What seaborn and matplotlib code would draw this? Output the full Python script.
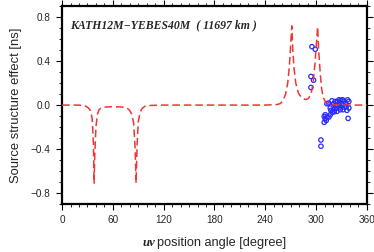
import numpy as np
import pandas as pd
import matplotlib
matplotlib.use('Agg')
import matplotlib.pyplot as plt
import seaborn as sns

# ── model curve ─────────────────────────────────────────────
model_angle = [0, 20, 28, 31, 33.5, 35.5, 37, 37.8, 38.6, 40, 41.5, 43.5, 46, 50,
               60, 70, 76, 79.5, 82, 84.5, 86.3, 87.4, 88.5, 90, 92, 94.5, 98,
               105, 120, 180, 240, 254, 258, 261, 264, 266.5, 268.5, 270,
               271.3, 272.5, 274, 276, 279, 282, 285, 288, 291, 294, 296.5,
               298.5, 300.3, 301.8, 303, 304.8, 306.5, 308.5, 311, 314, 320,
               340, 360]
model_value = [0.0, 0.0, -0.01, -0.025, -0.05, -0.12, -0.35, -0.71, -0.45, -0.2,
               -0.09, -0.045, -0.025, -0.018, -0.015, -0.017, -0.025, -0.045,
               -0.08, -0.16, -0.4, -0.71, -0.38, -0.15, -0.07, -0.03, -0.01,
               -0.003, 0.0, 0.0, 0.0, 0.005, 0.015, 0.04, 0.1, 0.2, 0.36, 0.55,
               0.72, 0.5, 0.33, 0.2, 0.11, 0.075, 0.058, 0.05, 0.06, 0.1, 0.2,
               0.36, 0.55, 0.71, 0.5, 0.3, 0.15, 0.07, 0.03, 0.012, 0.003,
               0.0, 0.0]

# ── observed points ─────────────────────────────────────────
obs_angle = [295.1, 299.0, 293.9, 297.0, 293.9, 305.7, 305.7,
             309.6, 310.8, 312.0, 309.6, 312.8, 315.1, 310.8, 316.7, 319.1,
             321.4, 314.7, 316.7, 317.5, 318.7, 320.6, 323.0, 325.4, 327.0,
             329.3, 331.3, 333.2, 334.8, 337.2, 338.7, 338.7, 336.4, 333.2,
             331.7, 328.5, 325.4, 323.8, 320.6, 337.8, 312.8, 327.7, 330.5,
             322.6, 335.6, 328.5, 324.6]
obs_value = [0.531, 0.507, 0.26, 0.226, 0.16, -0.317, -0.374,
             -0.103, -0.124, -0.139, -0.157, -0.109, -0.109, -0.088, -0.088,
             -0.066, -0.060, 0.018, -0.027, -0.048, 0.039, 0.012, -0.006,
             0.033, 0.048, 0.042, 0.048, 0.036, 0.012, 0.048, 0.033, -0.027,
             -0.048, -0.018, -0.042, -0.018, -0.006, -0.030, -0.042, -0.121,
             0.012, 0.012, 0.003, 0.033, -0.012, -0.042, -0.057]

TITLE = "KATH12M\u2212YEBES40M  ( 11697 km )"

df_model = pd.DataFrame({'angle': model_angle, 'value': model_value})
df_obs = pd.DataFrame({'angle': obs_angle, 'value': obs_value})

sns.set_style('ticks')
plt.rcParams['font.family'] = ['Liberation Sans', 'DejaVu Sans']

fig = plt.figure(figsize=(3.74, 2.52), dpi=100)
ax = fig.add_axes([0.166, 0.19, 0.815, 0.786])

sns.scatterplot(data=df_obs, x='angle', y='value', ax=ax, s=10,
                facecolors='none', edgecolor='#2a2aff', linewidth=0.9,
                marker='o', zorder=2)
sns.lineplot(data=df_model, x='angle', y='value', ax=ax, color='#f03535',
             linewidth=1.1, dashes=False, zorder=3, sort=False)
ax.lines[-1].set_dashes([5, 2.5])

ax.set_xlim(0, 360)
ax.set_ylim(-0.9, 0.9)
ax.set_xticks(np.arange(0, 361, 60))
ax.set_xticks(np.arange(0, 361, 10), minor=True)
ax.set_yticks([-0.8, -0.4, 0.0, 0.4, 0.8])
ax.set_yticks(np.arange(-0.9, 0.91, 0.1), minor=True)
ax.set_yticklabels(['\u22120.8', '\u22120.4', '0.0', '0.4', '0.8'])
ax.tick_params(which='major', direction='out', length=4.5, width=0.8,
               labelsize=7.2, top=True, right=True, color='black', pad=4)
ax.tick_params(axis='x', which='major', pad=3)
ax.tick_params(which='minor', direction='out', length=2.2, width=0.6,
               top=True, right=True, color='black')
for sp in ax.spines.values():
    sp.set_linewidth(1.6)
    sp.set_color('black')

ax.set_xlabel('')
ax.set_ylabel('Source structure effect [ns]', fontsize=9.4, labelpad=6)

ax.text(0.025, 0.935, TITLE, transform=ax.transAxes, fontsize=8.5,
        family='Liberation Serif', fontweight='bold', fontstyle='italic',
        va='top', ha='left')

fig.text(0.38, 0.025, 'uv', fontsize=9.2, family='Liberation Serif',
         fontweight='bold', fontstyle='italic', ha='left', va='baseline')
fig.text(0.42, 0.025, 'position angle [degree]', fontsize=9.2,
         ha='left', va='baseline')

plt.savefig('out.png', dpi=100)
